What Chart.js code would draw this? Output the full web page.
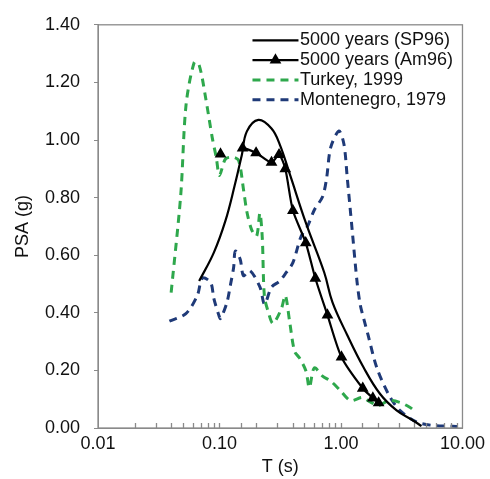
<!DOCTYPE html>
<html>
<head>
<meta charset="utf-8">
<script src="https://cdn.jsdelivr.net/npm/chart.js@4.4.0/dist/chart.umd.min.js"></script>
<style>
  html, body { margin: 0; padding: 0; background: #fff; }
  canvas { display: block; }
</style>
</head>
<body>
<canvas id="psaChart" width="490" height="479"></canvas>
<script>
// series names (legend order)
const seriesNames = ['5000 years (SP96)', '5000 years (Am96)', 'Turkey, 1999', 'Montenegro, 1979'];

// 5000 years, SP96 (smooth solid line)
const sp96T   = [0.068, 0.09, 0.112, 0.133, 0.153, 0.168, 0.209, 0.268, 0.313, 0.378, 0.515, 0.728, 0.85, 1.125, 1.54, 2.1, 2.87, 3.92, 4.6];
const sp96Psa = [0.51, 0.61, 0.72, 0.84, 0.95, 1.03, 1.07, 1.04, 0.985, 0.883, 0.711, 0.54, 0.437, 0.323, 0.209, 0.118, 0.061, 0.026, 0.007];

// 5000 years, Am96 (solid line with triangles)
const am96T   = [0.102, 0.155, 0.200, 0.268, 0.309, 0.348, 0.402, 0.513, 0.615, 0.774, 1.01, 1.51, 1.83, 2.04];
const am96Psa = [0.951, 0.972, 0.955, 0.922, 0.949, 0.900, 0.755, 0.643, 0.520, 0.392, 0.246, 0.138, 0.104, 0.087];

// Turkey, 1999 record
const turkeyT   = [0.040, 0.048, 0.053, 0.062, 0.068, 0.077, 0.087, 0.094, 0.100, 0.112, 0.130, 0.144, 0.158, 0.168, 0.184, 0.202, 0.215, 0.225, 0.234, 0.252, 0.276, 0.323, 0.348, 0.378, 0.415, 0.456, 0.515, 0.549, 0.603, 0.705, 0.823, 0.992, 1.2, 1.49, 1.67, 2.04, 2.46, 3.05, 3.68, 4.0];
const turkeyPsa = [0.47, 0.81, 1.12, 1.27, 1.26, 1.145, 1.01, 0.94, 0.877, 0.934, 0.94, 0.928, 0.825, 0.751, 0.688, 0.666, 0.746, 0.66, 0.46, 0.403, 0.363, 0.414, 0.46, 0.369, 0.266, 0.243, 0.198, 0.14, 0.209, 0.18, 0.163, 0.129, 0.095, 0.106, 0.095, 0.078, 0.095, 0.089, 0.072, 0.06];

// Montenegro, 1979 record
const montT   = [0.0387, 0.0529, 0.0657, 0.0722, 0.0845, 0.0899, 0.0987, 0.102, 0.1153, 0.1228, 0.1307, 0.135, 0.148, 0.1576, 0.1786, 0.2154, 0.235, 0.268, 0.313, 0.3545, 0.402, 0.47, 0.53, 0.603, 0.705, 0.76, 0.823, 0.963, 1.058, 1.125, 1.236, 1.357, 1.443, 1.538, 1.67, 1.973, 2.456, 3.05, 4.17, 5.7, 8.3, 9.1];
const montPsa = [0.371, 0.397, 0.46, 0.52, 0.506, 0.449, 0.392, 0.38, 0.437, 0.495, 0.557, 0.614, 0.586, 0.529, 0.546, 0.489, 0.43, 0.489, 0.51, 0.54, 0.574, 0.666, 0.70, 0.757, 0.803, 0.865, 0.974, 1.031, 0.985, 0.871, 0.688, 0.506, 0.426, 0.38, 0.323, 0.209, 0.118, 0.061, 0.021, 0.009, 0.006, 0.005];

// axis ticks
const xTickLabels = [0.01, 0.1, 1, 10];
const yTickStep = 0.2;
const yMax = 1.4;

const toPoints = (xs, ys) => xs.map((x, i) => ({x: x, y: ys[i]}));

const FONT = 'Liberation Sans, Arial, sans-serif';
const AXIS_GREY = '#8a8a8a';

// box around plot area, inward minor ticks on x, and the in-plot legend
const framePlugin = {
  id: 'framePlugin',
  afterDraw(chart) {
    const {ctx, chartArea: a} = chart;
    const xs = chart.scales.x;
    ctx.save();
    ctx.strokeStyle = AXIS_GREY;
    ctx.lineWidth = 1.3;
    ctx.strokeRect(a.left, a.top, a.right - a.left, a.bottom - a.top);
    ctx.beginPath();
    xs.ticks.forEach(t => {
      const px = Math.round(xs.getPixelForValue(t.value)) + 0.5;
      if (px <= a.left + 1 || px >= a.right - 1) return;
      ctx.moveTo(px, a.bottom);
      ctx.lineTo(px, a.bottom - 5);
    });
    ctx.stroke();

    // legend
    const x0 = a.right - 210, x1 = x0 + 46;
    let y = a.top + 15.5;
    chart.data.datasets.forEach(ds => {
      ctx.beginPath();
      ctx.strokeStyle = ds.borderColor;
      ctx.lineWidth = ds.borderWidth;
      ctx.setLineDash(ds.borderDash || []);
      ctx.moveTo(x0, y);
      ctx.lineTo(x1, y);
      ctx.stroke();
      ctx.setLineDash([]);
      if (ds.pointRadius > 0) {
        Chart.helpers.drawPoint(ctx, {pointStyle: ds.pointStyle, radius: ds.pointRadius, borderWidth: 1, rotation: 0}, (x0 + x1) / 2, y);
        ctx.fillStyle = ds.pointBackgroundColor;
        ctx.fill();
      }
      ctx.fillStyle = '#111';
      ctx.font = '18px ' + FONT;
      ctx.textAlign = 'left';
      ctx.textBaseline = 'middle';
      ctx.fillText(ds.label, x1 + 1.5, y);
      y += 19.8;
    });
    ctx.restore();
  }
};

const config = {
  type: 'line',
  data: {
    datasets: [
      {
        label: seriesNames[0],
        data: toPoints(sp96T, sp96Psa),
        borderColor: '#000',
        borderWidth: 2.2,
        pointRadius: 0,
        tension: 0.4
      },
      {
        label: seriesNames[1],
        data: toPoints(am96T, am96Psa),
        borderColor: '#000',
        borderWidth: 2.2,
        pointStyle: 'triangle',
        pointRadius: 4.6,
        pointBackgroundColor: '#000',
        pointBorderColor: '#000',
        tension: 0.25,
        segment: {
          // the first segment is not visible in the source figure
          borderColor: ctx => ctx.p0DataIndex === 0 ? 'rgba(0,0,0,0)' : '#000'
        }
      },
      {
        label: seriesNames[2],
        data: toPoints(turkeyT, turkeyPsa),
        borderColor: '#2ea84c',
        borderWidth: 3,
        borderDash: [8, 6],
        pointRadius: 0,
        tension: 0.3
      },
      {
        label: seriesNames[3],
        data: toPoints(montT, montPsa),
        borderColor: '#1f3a78',
        borderWidth: 3,
        borderDash: [8, 6],
        pointRadius: 0,
        tension: 0.3
      }
    ]
  },
  options: {
    responsive: false,
    animation: false,
    layout: { padding: { left: 0, right: 23, top: 19, bottom: 0 } },
    plugins: {
      legend: { display: false },
      tooltip: { enabled: false }
    },
    scales: {
      x: {
        type: 'logarithmic',
        min: 0.01,
        max: 10,
        afterFit: s => { s.height = 51; },
        grid: { drawOnChartArea: false, drawTicks: false },
        border: { color: AXIS_GREY },
        ticks: {
          autoSkip: false,
          maxRotation: 0,
          padding: 5,
          color: '#111',
          font: { family: FONT, size: 18 },
          callback: value => xTickLabels.some(v => Math.abs(v - value) < v * 1e-6) ? Number(value).toFixed(2) : ''
        },
        title: {
          display: true,
          text: 'T (s)',
          color: '#111',
          font: { family: FONT, size: 18 },
          padding: { top: 0, bottom: 1 }
        }
      },
      y: {
        min: 0,
        max: yMax,
        afterFit: s => { s.width = 98; },
        grid: { drawOnChartArea: false, tickLength: 4, color: AXIS_GREY },
        border: { color: AXIS_GREY },
        ticks: {
          stepSize: yTickStep,
          padding: 14,
          color: '#111',
          font: { family: FONT, size: 18 },
          callback: value => Number(value).toFixed(2)
        },
        title: {
          display: true,
          text: 'PSA (g)',
          color: '#111',
          font: { family: FONT, size: 18 },
          padding: { top: 12, bottom: 0 }
        }
      }
    }
  },
  plugins: [framePlugin]
};

new Chart(document.getElementById('psaChart'), config);
</script>
</body>
</html>
